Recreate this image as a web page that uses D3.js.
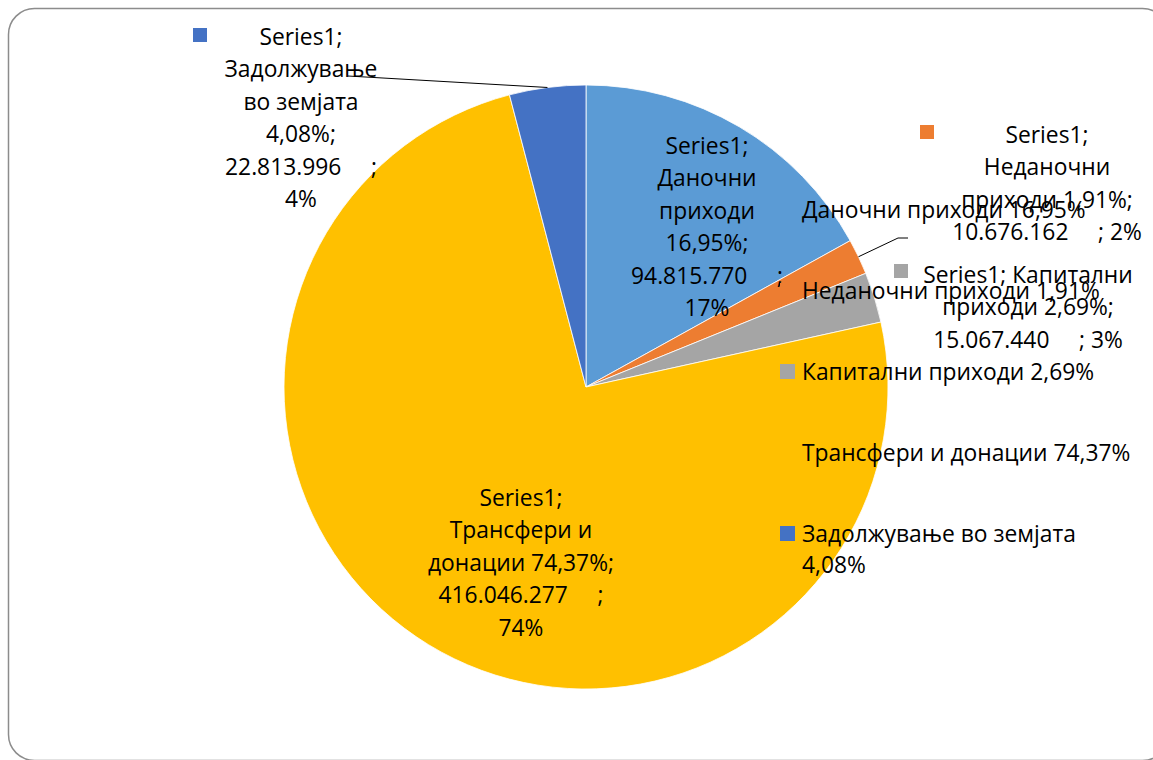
<!DOCTYPE html>
<html>
<head>
<meta charset="utf-8">
<script src="https://cdn.jsdelivr.net/npm/d3@7"></script>
<style>
  html, body { margin: 0; padding: 0; background: #fff; }
  text { font-family: 'Open Sans', sans-serif; fill: #000; white-space: pre; }
</style>
</head>
<body>
<script>
// data
const series = 'Series1';
const categories = ['Даночни приходи', 'Неданочни приходи', 'Капитални приходи', 'Трансфери и донации', 'Задолжување во земјата'];
const values = [94815770, 10676162, 15067440, 416046277, 22813996];
const colors = ['#5B9BD5', '#ED7D31', '#A5A5A5', '#FFC000', '#4472C4'];

const W = 1153, H = 760;
const cx = 586, cy = 387, R = 302;
const fs = 22.8, lh = 32.5;
const GAP = '     ';

const loc = d3.formatLocale({ decimal: ',', thousands: '.', grouping: [3], currency: ['', ''] });
const fmtVal = loc.format(',d');
const total = d3.sum(values);
const pct = (v) => (v / total * 100).toFixed(2).replace('.', ',') + '%';
const pct0 = (v) => Math.round(v / total * 100) + '%';

let svg = d3.select('body').append('svg').attr('width', W).attr('height', H);

// frame
svg.append('rect')
  .attr('x', 8.5).attr('y', 8.5).attr('width', 1160).attr('height', 752)
  .attr('rx', 26).attr('fill', 'none').attr('stroke', '#8c8c8c').attr('stroke-width', 1.5);

let pie = d3.pie().sort(null).value((d) => d);
let arcs = pie(values);
let arcGen = d3.arc().innerRadius(0).outerRadius(R);

let g = svg.append('g').attr('transform', `translate(${cx},${cy})`);
g.selectAll('path')
  .data(arcs)
  .enter()
  .append('path')
  .attr('d', arcGen)
  .attr('fill', (d, i) => colors[i])
  .attr('stroke', '#fff')
  .attr('stroke-width', 0.8);

// point on the outer edge at mid angle of a slice
function edge(d) {
  const a = (d.startAngle + d.endAngle) / 2;
  return [cx + R * Math.sin(a), cy - R * Math.cos(a)];
}

// data label lines (wrapping as in the original)
function lines(i) {
  const v = values[i], c = categories[i].split(' ');
  const num = fmtVal(v) + GAP + ';';
  if (i === 0) return [series + ';', c[0], c[1], pct(v) + ';', num, pct0(v)];
  if (i === 1) return [series + ';', c[0], c[1] + ' ' + pct(v) + ';', num + ' ' + pct0(v)];
  if (i === 2) return [series + '; ' + c[0], c[1] + ' ' + pct(v) + ';', num + ' ' + pct0(v)];
  if (i === 3) return [series + ';', c[0] + ' ' + c[1], c[2] + ' ' + pct(v) + ';', num, pct0(v)];
  return [series + ';', c[0], c[1] + ' ' + c[2], pct(v) + ';', num, pct0(v)];
}

// label layout: centre x, first line centre y, key position (or null)
const labelPos = [
  { x: 707, y: 146, key: null },
  { x: 1047, y: 135, key: [920, 125] },
  { x: 1028, y: 275, key: [894, 264] },
  { x: 521, y: 498, key: null },
  { x: 301, y: 37, key: [193, 28] },
];

// leader lines
const p4 = edge(arcs[4]);
svg.append('polyline')
  .attr('points', [[348, 76], p4].join(' '))
  .attr('fill', 'none').attr('stroke', '#000').attr('stroke-width', 1);
const p1 = edge(arcs[1]);
svg.append('polyline')
  .attr('points', [p1, [898, 238], [908, 238]].join(' '))
  .attr('fill', 'none').attr('stroke', '#000').attr('stroke-width', 1);

arcs.forEach((d, i) => {
  const lp = labelPos[i];
  if (lp.key) {
    svg.append('rect')
      .attr('x', lp.key[0]).attr('y', lp.key[1]).attr('width', 14).attr('height', 14)
      .attr('fill', colors[i]);
  }
  const t = svg.append('text')
    .attr('text-anchor', 'middle')
    .attr('font-size', fs);
  lines(i).forEach((s, k) => {
    t.append('tspan')
      .attr('x', lp.x)
      .attr('y', lp.y + k * lh)
      .attr('dy', '0.35em')
      .text(s);
  });
});

// legend
const legX = 780, legY0 = 210, legStep = 81;
let leg = svg.append('g');
categories.forEach((c, i) => {
  const y = legY0 + i * legStep;
  leg.append('rect')
    .attr('x', legX).attr('y', y - 8).attr('width', 15).attr('height', 15)
    .attr('fill', colors[i]);
  const t = leg.append('text').attr('font-size', fs);
  const full = c + ' ' + pct(values[i]);
  const parts = i === 4 ? [c, pct(values[i])] : [full];
  parts.forEach((s, k) => {
    t.append('tspan')
      .attr('x', legX + 22)
      .attr('y', y + k * 31)
      .attr('dy', '0.35em')
      .text(s);
  });
});
</script>
</body>
</html>
